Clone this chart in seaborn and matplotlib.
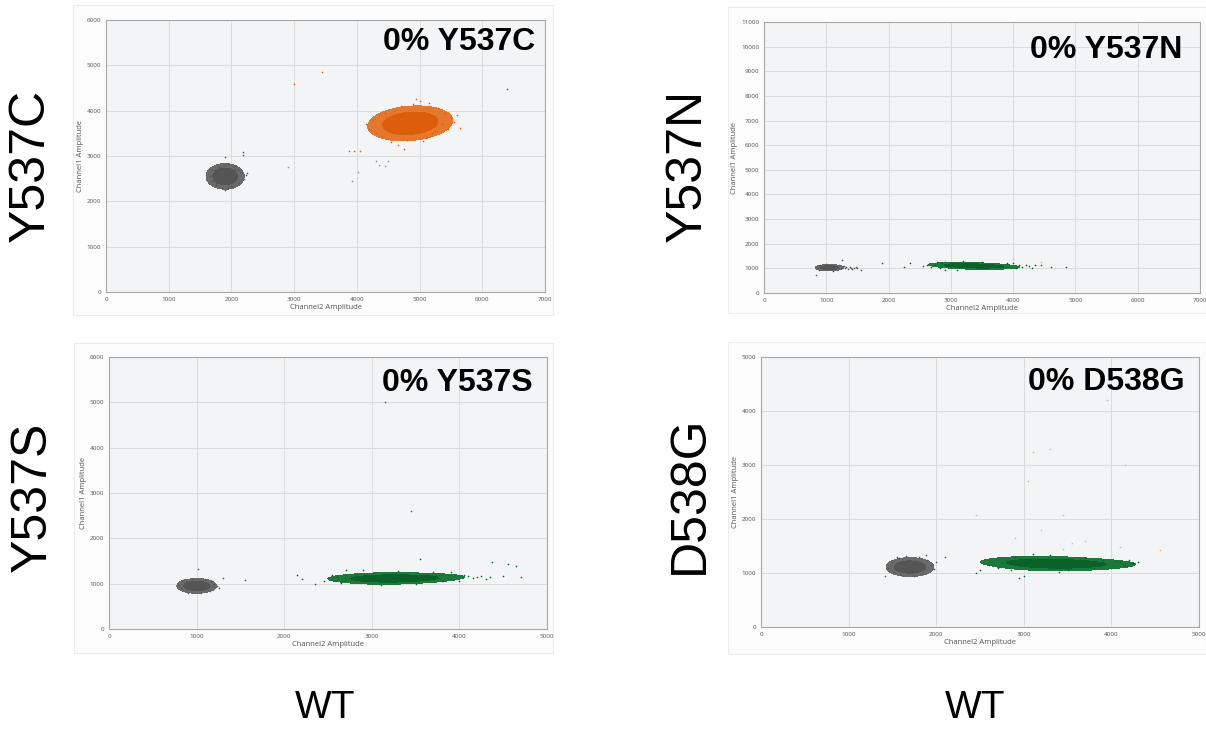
import numpy as np
import pandas as pd
import matplotlib
matplotlib.use("Agg")
import matplotlib.pyplot as plt
from matplotlib.colors import ListedColormap
import seaborn as sns

# ---------------- data ----------------
ROW_LABELS = ["Y537C", "Y537N", "Y537S", "D538G"]
PANEL_TITLES = ["0% Y537C", "0% Y537N", "0% Y537S", "0% D538G"]
COL_LABEL = "WT"
X_LABEL = "Channel2 Amplitude"
Y_LABEL = "Channel1 Amplitude"
X_MAX = [7000, 7000, 5000, 5000]
Y_MAX = [6000, 11000, 6000, 5000]

# Panel 1 (Y537C)
P1_GRAY_X = [1900, 1765, 2035, 1900, 1900, 1800, 2000, 1800, 2000]
P1_GRAY_Y = [2550, 2550, 2550, 2420, 2680, 2460, 2640, 2640, 2460]
P1_GRAY_SX = [1660, 1700, 1720, 1760, 1800, 1850, 1900, 1950, 2000, 2060, 2120, 2160, 2200, 2230, 2250, 1880, 1940, 2050, 1750, 2100, 2190, 1900, 2180, 6400]
P1_GRAY_SY = [2560, 2450, 2680, 2350, 2760, 2300, 2250, 2820, 2330, 2780, 2400, 2650, 2500, 2580, 2620, 2800, 2290, 2720, 2400, 2700, 3080, 2970, 3030, 4470]
P1_ORANGE_X = [4850, 4550, 5150, 4850, 4850, 4625, 5075, 4625, 5075]
P1_ORANGE_Y = [3720, 3690, 3750, 3550, 3890, 3575, 3865, 3825, 3615]
P1_ORANGE_SX = [4150, 4200, 4250, 4300, 4350, 4400, 4450, 4500, 4600, 4700, 4800, 4900, 5000, 5100, 5150, 5200, 5300, 5350, 5400, 5450, 5500, 5550, 5600, 5650, 4550, 4650, 5050, 4950, 5250, 4750, 3870, 3950, 4050, 3000, 3450]
P1_ORANGE_SY = [3700, 3600, 3800, 3500, 3900, 3450, 3950, 3380, 4000, 4100, 3350, 4150, 4220, 3400, 4180, 3500, 4050, 3700, 3950, 3600, 3850, 3750, 3900, 3620, 3300, 3250, 3320, 4250, 3550, 3150, 3120, 3120, 3100, 4580, 4850]
P1_BLUE_SX = [2900, 4020, 3930, 4300, 4350, 4450, 4500]
P1_BLUE_SY = [2750, 2650, 2450, 2900, 2800, 2780, 2900]

# Panel 2 (Y537N)
P2_GRAY_X = [1050, 950, 1150, 1050, 1050, 975, 1125, 975, 1125]
P2_GRAY_Y = [1030, 1030, 1030, 975, 1085, 988, 1072, 1072, 988]
P2_GRAY_SX = [850, 880, 900, 1000, 1100, 1200, 1250, 1300, 1350, 1400, 1450, 1500, 1550, 1280, 1320, 1420, 830, 1260, 1380, 1480]
P2_GRAY_SY = [1050, 950, 1120, 1180, 880, 1150, 1000, 1030, 990, 1020, 1000, 1010, 950, 1080, 1060, 980, 720, 1350, 1050, 1040]
P2_GREEN_X = [3310, 3130, 3490, 3710, 3310, 3310, 3030, 3600]
P2_GREEN_Y = [1100, 1112, 1100, 1072, 1020, 1180, 1128, 1088]
P2_GREEN_SX = [1900, 2250, 2350, 2550, 2620, 2680, 2750, 2780, 2820, 2850, 2900, 3100, 3500, 3900, 4050, 4100, 4150, 4200, 4250, 4300, 4350, 4450, 4600, 4850, 4000, 3200]
P2_GREEN_SY = [1200, 1050, 1200, 1100, 1150, 1050, 1150, 1250, 1000, 1200, 950, 950, 1270, 1200, 1000, 1120, 1050, 1150, 1080, 1020, 1120, 1150, 1050, 1050, 1200, 1280]
P2_ORANGE_SX = [2900, 4000, 4450]
P2_ORANGE_SY = [1300, 1400, 1250]

# Panel 3 (Y537S)
P3_GRAY_X = [1000, 900, 1100, 1000, 1000, 925, 1075, 925, 1075]
P3_GRAY_Y = [950, 950, 950, 878, 1022, 896, 1004, 1004, 896]
P3_GRAY_SX = [800, 820, 850, 900, 950, 1050, 1100, 1150, 1200, 1230, 1260, 1300, 1020, 1550, 880, 1180, 3150, 3450]
P3_GRAY_SY = [980, 900, 1070, 800, 1110, 790, 1100, 830, 1000, 950, 900, 1130, 1320, 1080, 1060, 1060, 5000, 2600]
P3_GREEN_X = [3150, 3020, 3300, 3480, 3150, 3150, 2940, 3720, 3430]
P3_GREEN_Y = [1110, 1120, 1100, 1120, 1040, 1190, 1130, 1155, 1100]
P3_GREEN_SX = [2150, 2200, 2350, 2450, 2550, 2600, 2650, 2700, 2900, 3100, 3300, 3500, 3700, 3800, 3900, 4000, 4050, 4100, 4150, 4200, 4250, 4300, 4350, 4500, 4550, 4650, 4700, 3550, 4370]
P3_GREEN_SY = [1200, 1100, 1000, 1050, 1200, 1150, 1020, 1300, 1300, 980, 1290, 1000, 1250, 1050, 1250, 1050, 1200, 1170, 1120, 1150, 1180, 1100, 1150, 1180, 1430, 1400, 1150, 1550, 1480]

# Panel 4 (D538G)
P4_GRAY_X = [1700, 1580, 1820, 1700, 1700, 1610, 1790, 1610, 1790]
P4_GRAY_Y = [1110, 1110, 1110, 1032, 1188, 1052, 1168, 1168, 1052]
P4_GRAY_SX = [1420, 1450, 1500, 1520, 1550, 1600, 1650, 1750, 1800, 1850, 1900, 1950, 1980, 2000, 1880, 1580, 2100]
P4_GRAY_SY = [950, 1100, 1200, 1020, 1300, 960, 1320, 940, 1300, 980, 1250, 1150, 1080, 1200, 1340, 1280, 1300]
P4_GREEN_X = [3250, 3100, 3400, 3600, 3250, 3250, 3000, 3900, 3550]
P4_GREEN_Y = [1170, 1190, 1150, 1170, 1095, 1255, 1200, 1180, 1160]
P4_GREEN_SX = [2450, 2500, 2600, 2700, 2750, 2800, 2850, 2900, 3000, 3100, 3300, 3500, 3700, 3800, 3900, 4000, 4050, 4100, 4150, 4200, 4250, 4300, 2950, 3400]
P4_GREEN_SY = [1000, 1050, 1150, 1100, 1200, 1250, 1050, 1300, 950, 1350, 1330, 1050, 1270, 1100, 1250, 1100, 1220, 1200, 1150, 1250, 1180, 1200, 900, 1010]
P4_ORANGE_SX = [3950, 3100, 3300, 4150, 3050, 2450, 3450, 3200, 2900, 3550, 3700, 4100, 4550, 3450]
P4_ORANGE_SY = [4200, 3250, 3300, 3000, 2700, 2080, 2080, 1800, 1650, 1550, 1600, 1480, 1420, 1450]

# ---------------- styling ----------------
GRAY = "#555555"
GRAY_L = "#6a6a6a"
ORANGE = "#dc5d0a"
ORANGE_L = "#e5782c"
GREEN = "#0a622a"
GREEN_L = "#1d783c"
BLUE = "#6fa3b8"
ORANGE_FAINT = "#f0b27a"

sns.set_theme(style="whitegrid")
plt.rcParams["font.family"] = ["Liberation Sans", "DejaVu Sans"]

W, H = 1206, 730
fig = plt.figure(figsize=(W / 100, H / 100), dpi=100)
fig.patch.set_facecolor("white")


def frect(l, t, r, b):
    return [l / W, 1 - b / H, (r - l) / W, (b - t) / H]


cards = [(73, 5, 553, 315), (728, 7, 1206, 313), (74, 343, 553, 653), (728, 342, 1206, 654)]
for (l, t, r, b) in cards:
    fig.add_artist(plt.Rectangle((l / W, 1 - b / H), (r - l) / W, (b - t) / H,
                                 transform=fig.transFigure, facecolor="#fcfcfc",
                                 edgecolor="#ececec", lw=0.8, zorder=0))

axes_px = [(106, 20, 545, 292), (764, 22, 1200, 293), (109, 357, 547, 629), (761, 357, 1199, 627)]
title_pos = [(0.977, 0.974), (0.959, 0.952), (0.968, 0.96), (0.968, 0.963)]

clusters = [
    [(P1_GRAY_X, P1_GRAY_Y, GRAY_L, GRAY), (P1_ORANGE_X, P1_ORANGE_Y, ORANGE_L, ORANGE)],
    [(P2_GRAY_X, P2_GRAY_Y, GRAY_L, GRAY), (P2_GREEN_X, P2_GREEN_Y, GREEN_L, GREEN)],
    [(P3_GRAY_X, P3_GRAY_Y, GRAY_L, GRAY), (P3_GREEN_X, P3_GREEN_Y, GREEN_L, GREEN)],
    [(P4_GRAY_X, P4_GRAY_Y, GRAY_L, GRAY), (P4_GREEN_X, P4_GREEN_Y, GREEN_L, GREEN)],
]
sprays = [
    [(P1_GRAY_SX, P1_GRAY_SY, GRAY), (P1_ORANGE_SX, P1_ORANGE_SY, ORANGE), (P1_BLUE_SX, P1_BLUE_SY, BLUE)],
    [(P2_GRAY_SX, P2_GRAY_SY, GRAY), (P2_GREEN_SX, P2_GREEN_SY, GREEN), (P2_ORANGE_SX, P2_ORANGE_SY, ORANGE_FAINT)],
    [(P3_GRAY_SX, P3_GRAY_SY, GRAY), (P3_GREEN_SX, P3_GREEN_SY, GREEN)],
    [(P4_GRAY_SX, P4_GRAY_SY, GRAY), (P4_GREEN_SX, P4_GREEN_SY, GREEN), (P4_ORANGE_SX, P4_ORANGE_SY, ORANGE_FAINT)],
]

for i in range(4):
    ax = fig.add_axes(frect(*axes_px[i]))
    ax.set_facecolor("#f3f4f6")
    for (xs, ys, cl, cd) in clusters[i]:
        # outer (sparser) part of the droplet cloud
        sns.kdeplot(x=xs, y=ys, ax=ax, fill=True, levels=[0.18, 1],
                    cmap=ListedColormap([cl]), bw_adjust=2.0, gridsize=300)
        # dense core drawn on top
        sns.kdeplot(x=xs, y=ys, ax=ax, fill=True, levels=[0.5, 1],
                    cmap=ListedColormap([cd]), bw_adjust=2.0, gridsize=300)
    for (xs, ys, c) in sprays[i]:
        sns.scatterplot(x=xs, y=ys, ax=ax, s=1.4, color=c, linewidth=0, legend=False)
    ax.set_xlim(0, X_MAX[i])
    ax.set_ylim(0, Y_MAX[i])
    ax.set_xticks(np.arange(0, X_MAX[i] + 1, 1000))
    ax.set_yticks(np.arange(0, Y_MAX[i] + 1, 1000))
    ax.grid(True, color="#dcdcdc", lw=0.7)
    ax.set_axisbelow(True)
    for sp in ax.spines.values():
        sp.set_color("#a8a8a8")
        sp.set_linewidth(0.8)
        sp.set_visible(True)
    ax.tick_params(axis="both", labelsize=4.5, labelcolor="#555555", length=2,
                   width=0.5, color="#999999", pad=1.5)
    for lab in ax.get_xticklabels() + ax.get_yticklabels():
        lab.set_family(["Open Sans", "DejaVu Sans"])
    ax.set_xlabel(X_LABEL, fontsize=5.5, color="#555555", labelpad=1.5, family=["Open Sans", "DejaVu Sans"])
    ax.set_ylabel(Y_LABEL, fontsize=5.5, color="#555555", labelpad=2, family=["Open Sans", "DejaVu Sans"])
    tx, ty = title_pos[i]
    ax.text(tx, ty, PANEL_TITLES[i], transform=ax.transAxes, ha="right", va="top",
            fontsize=23, fontweight="bold", color="black")

row_pos = [(31, 165), (688, 165), (33, 497), (690, 495)]
for lab, (x, y) in zip(ROW_LABELS, row_pos):
    fig.text(x / W, 1 - y / H, lab, rotation=90, ha="center", va="center", fontsize=36, color="black")

for x in (325, 975):
    fig.text(x / W, 1 - 708 / H, COL_LABEL, ha="center", va="center", fontsize=28, color="black")

fig.savefig("out.png", dpi=100, facecolor="white")
